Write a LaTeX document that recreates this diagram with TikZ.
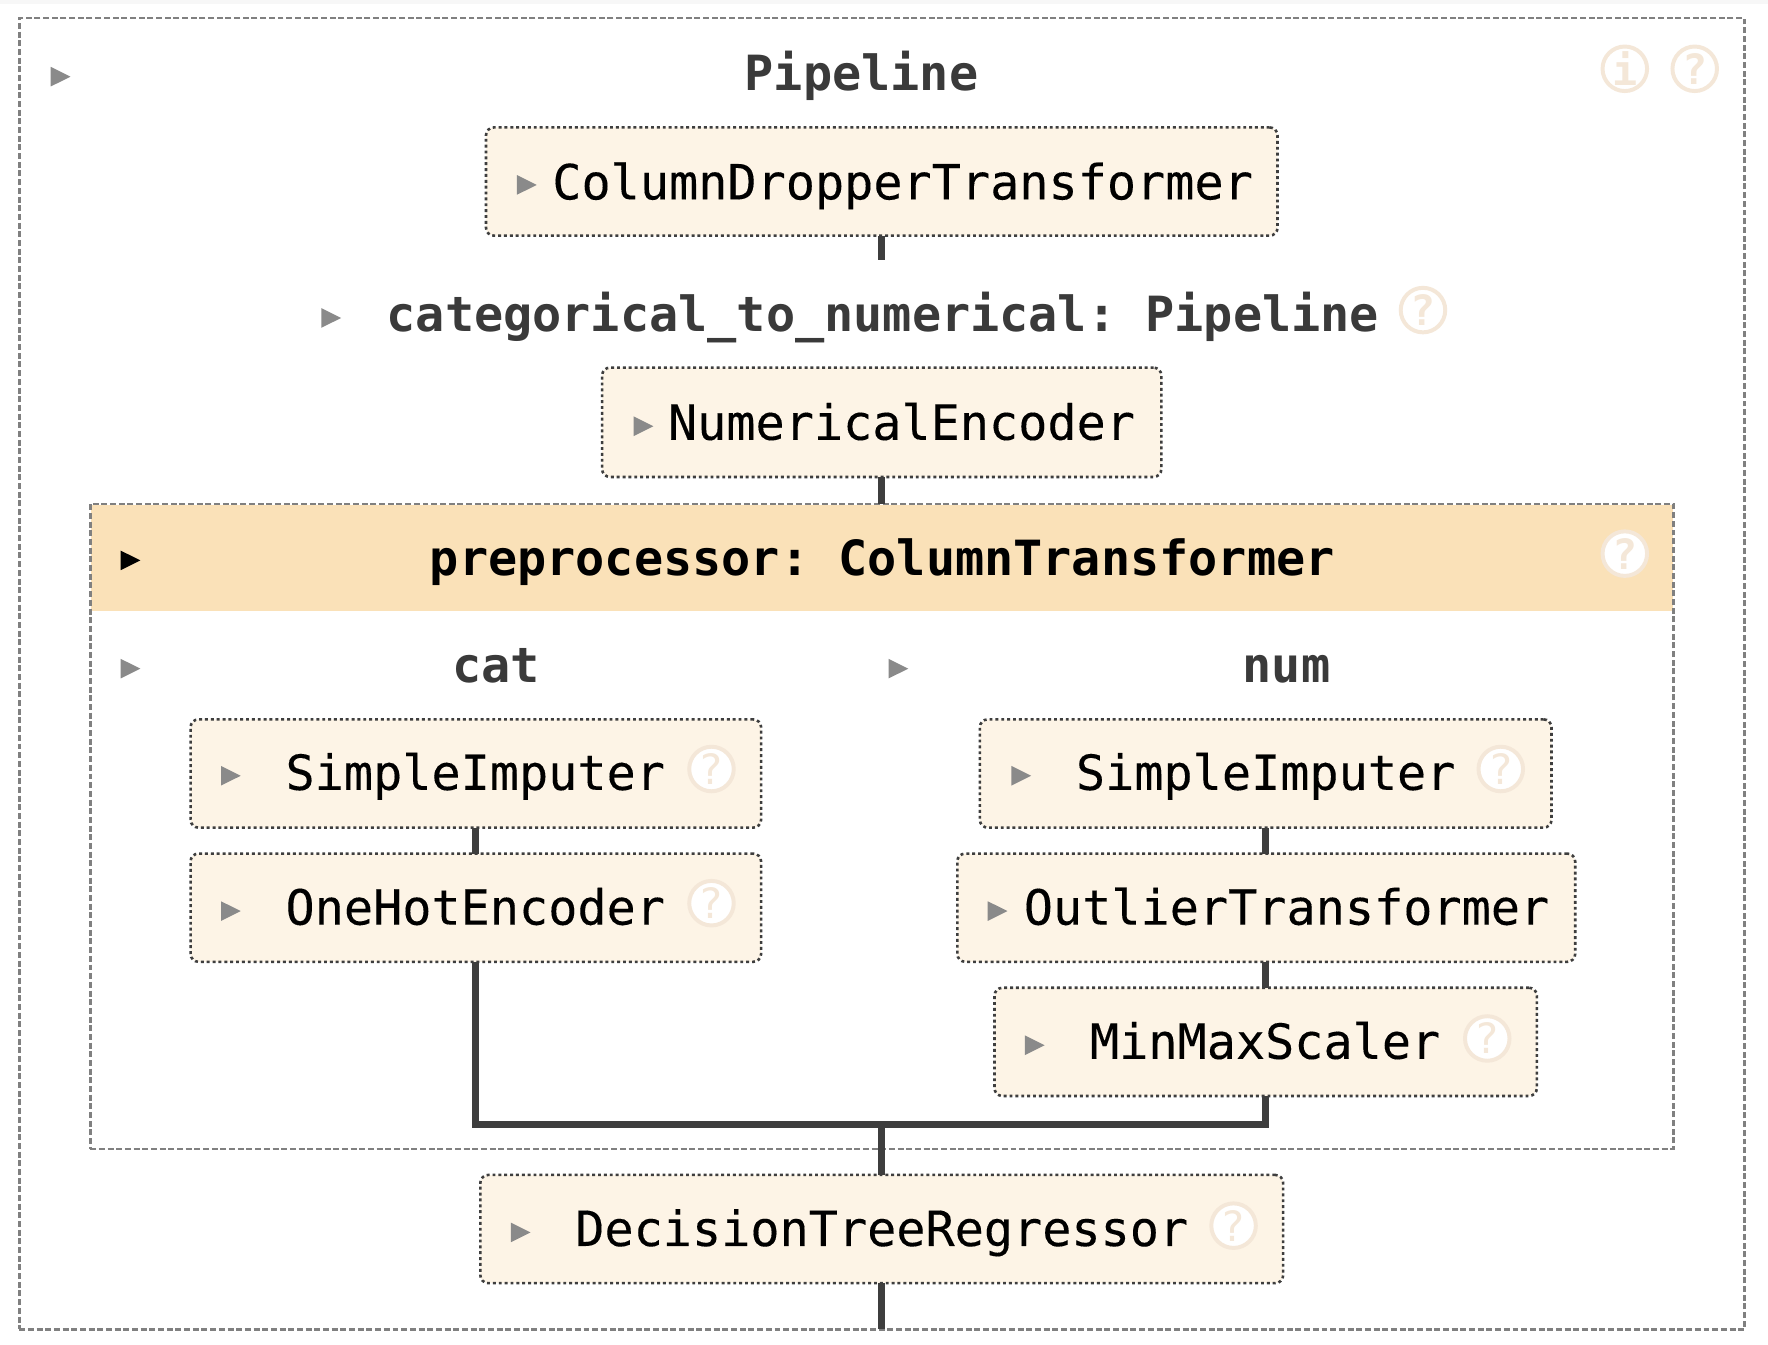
\documentclass[tikz,border=0pt]{standalone}
\usepackage{fontspec}
\newfontfamily\dvmono[FakeBold=0.2]{DejaVu Sans Mono}
\newfontfamily\dvbold{DejaVu Sans Mono Bold}
\newfontfamily\dvplain{DejaVu Sans Mono}
\usetikzlibrary{calc}
\definecolor{boxfill}{HTML}{FDF4E6}
\definecolor{headfill}{HTML}{FAE1B8}
\definecolor{ringcol}{HTML}{F4E7D8}
\definecolor{dashcol}{HTML}{808080}
\definecolor{dotcol}{HTML}{3E3E3E}
\definecolor{linecol}{HTML}{3E3E3E}
\definecolor{tricol}{HTML}{8A8A8A}
\definecolor{labelcol}{HTML}{3A3A3A}
\tikzset{
  estbox/.style={draw=dotcol,fill=boxfill,line width=2.3pt,dash pattern=on 2.6pt off 2.6pt,rounded corners=7pt,inner sep=0pt,outer sep=0pt},
  groupbox/.style={draw=dashcol,line width=2.4pt,dash pattern=on 5.3pt off 2.4pt,inner sep=0pt,outer sep=0pt},
  link/.style={draw=linecol,line width=6pt},
  esttext/.style={anchor=base,inner sep=0pt,text=black,font=\frenchspacing\dvmono\fontsize{43}{50}\selectfont},
  grouptext/.style={anchor=base,inner sep=0pt,text=labelcol,font=\frenchspacing\dvbold\fontsize{43}{50}\selectfont},
  headtext/.style={anchor=base,inner sep=0pt,text=black,font=\frenchspacing\dvbold\fontsize{43}{50}\selectfont},
  ring/.style={circle,draw=ringcol,line width=3.5pt,minimum size=39.5pt,inner sep=0pt,outer sep=0pt,text=ringcol,font=\dvbold\fontsize{37}{38}\selectfont},
  ringhead/.style={ring,fill=white},
  ringbox/.style={ring,fill=white,font=\dvplain\fontsize{37}{38}\selectfont},
}
\newcommand{\tri}[3][tricol]{\fill[#1] (#2,#3-8.7) -- (#2+17.5,#3) -- (#2,#3+8.7) -- cycle;}
\begin{document}
\begin{tikzpicture}[x=1pt,y=-1pt]
\useasboundingbox (0,0) rectangle (1568,1192);
\fill[white] (0,0) rectangle (1568,1192);
\fill[black!3] (0,0) rectangle (1568,3.5);

% outer and ColumnTransformer containers
\node[groupbox,minimum width=1530,minimum height=1163] (outer) at (782,597.5) {};
\fill[headfill] (81,448) rectangle (1484,542);
\node[groupbox,minimum width=1404,minimum height=572] (prep) at (782,733) {};

% estimator boxes
\node[estbox,minimum width=702,minimum height=96] (dropper) at (782,161) {};
\node[estbox,minimum width=496,minimum height=97] (numenc) at (782,374.5) {};
\node[estbox,minimum width=506,minimum height=96] (catimp) at (422,686) {};
\node[estbox,minimum width=506,minimum height=96] (onehot) at (422,805) {};
\node[estbox,minimum width=507,minimum height=96] (numimp) at (1122.5,686) {};
\node[estbox,minimum width=548,minimum height=96] (outlier) at (1123,805) {};
\node[estbox,minimum width=481,minimum height=96] (minmax) at (1122.5,924) {};
\node[estbox,minimum width=712,minimum height=96] (tree) at (782,1090) {};

% connectors
\coordinate (labeltop) at (782,231);
\coordinate (merge) at (782,997);
\draw[link] (dropper.south) -- (labeltop);
\draw[link] (numenc.south) -- (prep.north);
\draw[link] (catimp.south) -- (onehot.north);
\draw[link] (numimp.south) -- (numimp.south |- outlier.north);
\draw[link] (outlier.south -| minmax.north) -- (minmax.north);
\draw[link,line join=miter] (onehot.south) |- (merge) -| (minmax.south);
\draw[link] (merge) -- (tree.north);
\draw[link] (tree.south) -- (outer.south);

% texts
\node[grouptext] (tpipe) at (764,80) {Pipeline};
\node[esttext] (tdrop) at (800.5,176.8) {ColumnDropperTransformer};
\node[grouptext] (tcat2num) at (783,294) {categorical\_to\_numerical: Pipeline};
\node[esttext] (tnum) at (799.5,390) {NumericalEncoder};
\node[headtext] (tprep) at (782.5,510) {preprocessor: ColumnTransformer};
\node[grouptext] (tcat) at (440,605) {cat};
\node[grouptext] (tnumg) at (1141,605) {num};
\node[esttext] (tcatimp) at (421.5,700.5) {SimpleImputer};
\node[esttext] (tohe) at (421.5,820) {OneHotEncoder};
\node[esttext] (tnumimp) at (1122.5,700.5) {SimpleImputer};
\node[esttext] (tout) at (1141,820) {OutlierTransformer};
\node[esttext] (tmm) at (1122,939) {MinMaxScaler};
\node[esttext] (ttree) at (782,1105) {DecisionTreeRegressor};

% triangles
\tri{45}{68}
\tri{458.5}{164}
\tri{285}{282}
\tri{562}{378}
\tri[black]{107}{497}
\tri{107}{593}
\tri{788}{593}
\tri{196}{688}
\tri{196}{808}
\tri{897}{688}
\tri{876}{808}
\tri{909}{927}
\tri{453}{1093}

% icons
\node[ring] (iinfo) at (1441,61) {i};
\node[ring] (ihelp) at (1503,61) {?};
\node[ring] (h1) at (1262,275) {?};
\node[ringhead] (h2) at (1441,491) {?};
\node[ringbox] (h3) at (631,682) {?};
\node[ringbox] (h4) at (631,801) {?};
\node[ringbox] (h5) at (1331,682) {?};
\node[ringbox] (h6) at (1319,921) {?};
\node[ringbox] (h7) at (1094,1087) {?};
\end{tikzpicture}
\end{document}
